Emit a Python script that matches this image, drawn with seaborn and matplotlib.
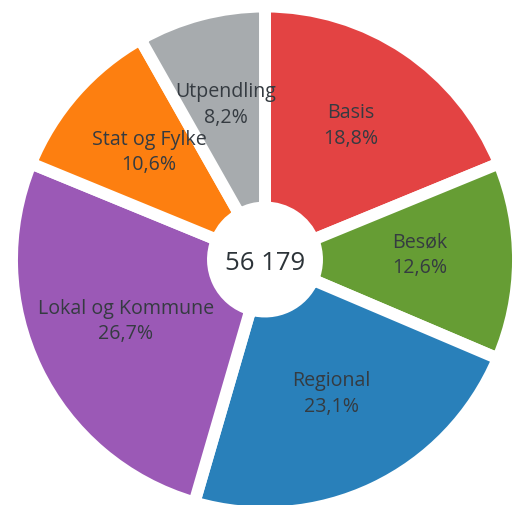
import matplotlib
matplotlib.use("Agg")
import matplotlib.pyplot as plt
import seaborn as sns
import numpy as np

categories = ["Basis", "Besøk", "Regional", "Lokal og Kommune", "Stat og Fylke", "Utpendling"]
shares = [18.8, 12.6, 23.1, 26.7, 10.6, 8.2]
total_label = "56 179"
colors = ["#e34343", "#669d34", "#2980ba", "#9b59b6", "#fd7f10", "#a7abae"]


def draw_donut():
    """Draw the donut chart with labels inside the slices"""

    sns.set_theme(style="white")
    plt.rcParams["font.family"] = ["Open Sans", "DejaVu Sans"]

    fig = plt.figure(figsize=(5.13, 5.06), dpi=100)
    ax = fig.add_axes([0, 0, 1, 1])

    center = (265, 245.5)
    radius = 253

    wedges, _ = ax.pie(
        shares,
        colors=colors,
        startangle=90,
        counterclock=False,
        radius=radius,
        center=center,
        wedgeprops=dict(width=201, edgecolor="white", linewidth=8.6),
    )

    for wedge, name, value in zip(wedges, categories, shares):
        mid = np.deg2rad((wedge.theta1 + wedge.theta2) / 2)
        r = radius * 0.61
        ax.text(
            center[0] + r * np.cos(mid),
            center[1] + r * np.sin(mid) + 6,
            f"{name}\n{value:.1f}%".replace(".", ","),
            ha="center",
            va="center",
            fontsize=14.1,
            color="#353b41",
            linespacing=1.38,
        )

    ax.text(center[0], center[1] - 3, total_label, ha="center", va="center",
            fontsize=18.5, color="#2c3338")

    ax.set_xlim(0, 513)
    ax.set_ylim(0, 506)
    ax.set_aspect("auto")
    ax.axis("off")

    fig.savefig("out.png", dpi=100)


if __name__ == "__main__":
    draw_donut()
